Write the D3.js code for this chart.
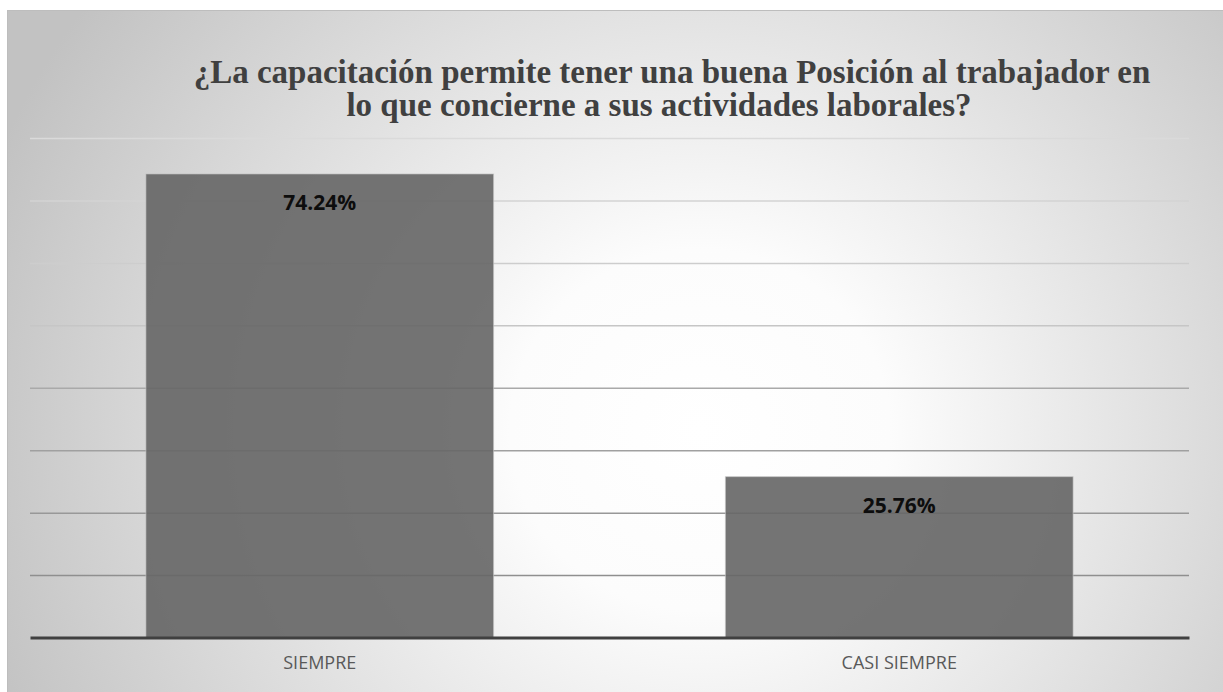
<!DOCTYPE html>
<html>
<head>
<meta charset="utf-8">
<script src="https://cdn.jsdelivr.net/npm/d3@7"></script>
<style>
  body { margin: 0; background: #ffffff; }
  svg { display: block; }
</style>
</head>
<body>
<div id="chartDiv"></div>
<script>
;(function() {

	var width = 1223;
	var height = 692;
	var margin = { top: 138, right: 34, bottom: 54.5, left: 30 };

	var categories = ["SIEMPRE", "CASI SIEMPRE"];
	var values = [74.24, 25.76];
	var valueLabels = ["74.24%", "25.76%"];
	var yTicks = [0, 10, 20, 30, 40, 50, 60, 70, 80];
	var titleLines = [
		"¿La capacitación permite tener una buena Posición al trabajador en",
		"lo que concierne a sus actividades laborales?"
	];

	var chartWidth = width - margin.left - margin.right;
	var chartHeight = height - margin.top - margin.bottom;

	var svg = d3.select("#chartDiv").append("svg")
		.attr("width", width)
		.attr("height", height);

	var defs = svg.append("defs");

	// soft radial background, light towards the centre-right
	var bg = defs.append("radialGradient")
		.attr("id", "bgGrad")
		.attr("gradientUnits", "userSpaceOnUse")
		.attr("cx", 700).attr("cy", 430).attr("r", 760)
		.attr("gradientTransform", "translate(700,430) scale(1,0.95) translate(-700,-430)");
	bg.append("stop").attr("offset", "0").attr("stop-color", "#ffffff");
	bg.append("stop").attr("offset", "0.25").attr("stop-color", "#fcfcfc");
	bg.append("stop").attr("offset", "1").attr("stop-color", "#c2c2c2");

	svg.append("rect")
		.attr("x", 7.5).attr("y", 10.5)
		.attr("width", width).attr("height", height)
		.attr("fill", "url(#bgGrad)")
		.attr("stroke", "#bdbdbd");

	var plot = svg.append("g")
		.attr("transform", "translate(" + margin.left + "," + margin.top + ")");

	var xScale = d3.scaleBand()
		.domain(categories)
		.range([0, chartWidth])
		.paddingInner(0.4)
		.paddingOuter(0.2);

	var yScale = d3.scaleLinear()
		.domain([0, 80])
		.range([chartHeight, 0]);

	// gridlines get lighter towards the top
	var gridColor = d3.scaleLinear()
		.domain([10, 40, 50, 80])
		.range(["#8f8f8f", "#a9a9a9", "#c6c6c6", "#dadada"]);

	var yAxis = d3.axisLeft(yScale)
		.tickValues(yTicks.slice(1))
		.tickSize(-chartWidth)
		.tickFormat("");

	var grid = plot.append("g")
		.attr("class", "grid")
		.call(yAxis);
	grid.select(".domain").remove();
	grid.selectAll(".tick line")
		.attr("stroke", function(d) { return gridColor(d); })
		.attr("stroke-width", 1.5);

	// bars
	plot.selectAll(".bar")
		.data(values)
		.enter().append("rect")
		.attr("class", "bar")
		.attr("x", function(d, i) { return xScale(categories[i]); })
		.attr("y", function(d) { return yScale(d); })
		.attr("width", xScale.bandwidth())
		.attr("height", function(d) { return chartHeight - yScale(d); })
		.attr("fill", "#666666")
		.attr("fill-opacity", 0.91)
		.attr("stroke", "#c8c8c8")
		.attr("stroke-opacity", 0.6)
		.attr("stroke-width", 1);

	// value labels
	plot.selectAll(".value-label")
		.data(values)
		.enter().append("text")
		.attr("class", "value-label")
		.attr("x", function(d, i) { return xScale(categories[i]) + xScale.bandwidth() / 2; })
		.attr("y", function(d) { return yScale(d) + 36; })
		.attr("text-anchor", "middle")
		.style("font-family", "'Open Sans', 'Noto Sans', sans-serif")
		.style("font-weight", "bold")
		.style("font-size", "21px")
		.attr("fill", "#0d0d0d")
		.text(function(d, i) { return valueLabels[i]; });

	// x axis baseline
	var xAxis = d3.axisBottom(xScale).tickSize(0).tickPadding(19);
	var xAxisG = plot.append("g")
		.attr("class", "x axis")
		.attr("transform", "translate(0," + chartHeight + ")")
		.call(xAxis);
	xAxisG.select(".domain")
		.attr("stroke", "#404040")
		.attr("stroke-width", 3);
	xAxisG.selectAll(".tick text")
		.style("font-family", "'Open Sans', 'Noto Sans', sans-serif")
		.style("font-size", "18px")
		.attr("fill", "#595959");

	// title
	var titleX = [672, 659];
	var titleY = [83, 116];
	svg.selectAll(".title")
		.data(titleLines)
		.enter().append("text")
		.attr("class", "title")
		.attr("x", function(d, i) { return titleX[i]; })
		.attr("y", function(d, i) { return titleY[i]; })
		.attr("text-anchor", "middle")
		.style("font-family", "'Liberation Serif', 'Times New Roman', serif")
		.style("font-weight", "bold")
		.style("font-size", "33px")
		.attr("fill", "#404040")
		.text(function(d) { return d; });

})();
</script>
</body>
</html>
